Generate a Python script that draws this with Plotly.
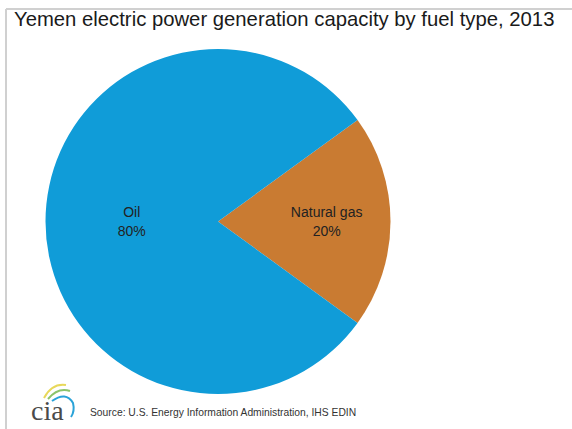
import plotly.graph_objects as go

# Data
fuel_types = ["Natural gas", "Oil"]
shares = [20, 80]
slice_colors = ["#C97B32", "#109CD8"]

title_text = "Yemen electric power generation capacity by fuel type, 2013"
source_text = "Source: U.S. Energy Information Administration, IHS EDIN"

W, H = 572, 429

fig = go.Figure(
    go.Pie(
        labels=fuel_types,
        values=shares,
        sort=False,
        direction="clockwise",
        rotation=54,
        marker=dict(colors=slice_colors, line=dict(width=0)),
        textinfo="label+percent",
        texttemplate="%{label}<br>%{percent:.0%}",
        textposition="inside",
        insidetextorientation="horizontal",
        insidetextfont=dict(family="Liberation Sans, Arial, sans-serif", size=14, color="#222222"),
        hoverinfo="label+percent",
        showlegend=False,
        domain=dict(x=[45 / W, 391 / W], y=[1 - 394 / H, 1 - 49 / H]),
    )
)

shapes = [
    # light frame (top and left)
    dict(type="line", xref="paper", yref="paper", x0=6 / W, x1=1, y0=1 - 9 / H, y1=1 - 9 / H,
         line=dict(color="#d0d0d0", width=2)),
    dict(type="line", xref="paper", yref="paper", x0=6 / W, x1=6 / W, y0=0, y1=1 - 9 / H,
         line=dict(color="#d0d0d0", width=2)),
    # cia logo arcs
    dict(type="path", xref="paper", yref="paper",
         path=f"M {44/W} {1-398/H} Q {52/W} {1-383/H} {66/W} {1-385/H}",
         line=dict(color="#e8d85a", width=2)),
    dict(type="path", xref="paper", yref="paper",
         path=f"M {48/W} {1-399/H} Q {58/W} {1-387/H} {70/W} {1-391/H}",
         line=dict(color="#8cc36a", width=2)),
    dict(type="path", xref="paper", yref="paper",
         path=f"M {52/W} {1-401/H} Q {66/W} {1-391/H} {73/W} {1-403/H} Q {75/W} {1-411/H} {71/W} {1-417/H}",
         line=dict(color="#2aa3d8", width=2)),
]

annotations = [
    dict(text=title_text, xref="paper", yref="paper", x=12 / W, y=1 - 19 / H,
         xanchor="left", yanchor="middle", showarrow=False,
         font=dict(family="Liberation Sans, Arial, sans-serif", size=20.3, color="#1a1a1a")),
    dict(text="cia", xref="paper", yref="paper", x=29 / W, y=1 - 410 / H,
         xanchor="left", yanchor="middle", showarrow=False,
         font=dict(family="Liberation Serif, Times New Roman, serif", size=28, color="#4a4a4a")),
    dict(text=source_text, xref="paper", yref="paper", x=88 / W, y=1 - 412 / H,
         xanchor="left", yanchor="middle", showarrow=False,
         font=dict(family="Liberation Sans, Arial, sans-serif", size=10.3, color="#333333")),
]

fig.update_layout(
    width=W, height=H,
    margin=dict(l=0, r=0, t=0, b=0),
    paper_bgcolor="white",
    plot_bgcolor="white",
    shapes=shapes,
    annotations=annotations,
)

fig.write_html(
    "out.html",
    config={"displayModeBar": False},
    post_script="document.body.style.margin='0';document.body.style.overflow='hidden';",
)
